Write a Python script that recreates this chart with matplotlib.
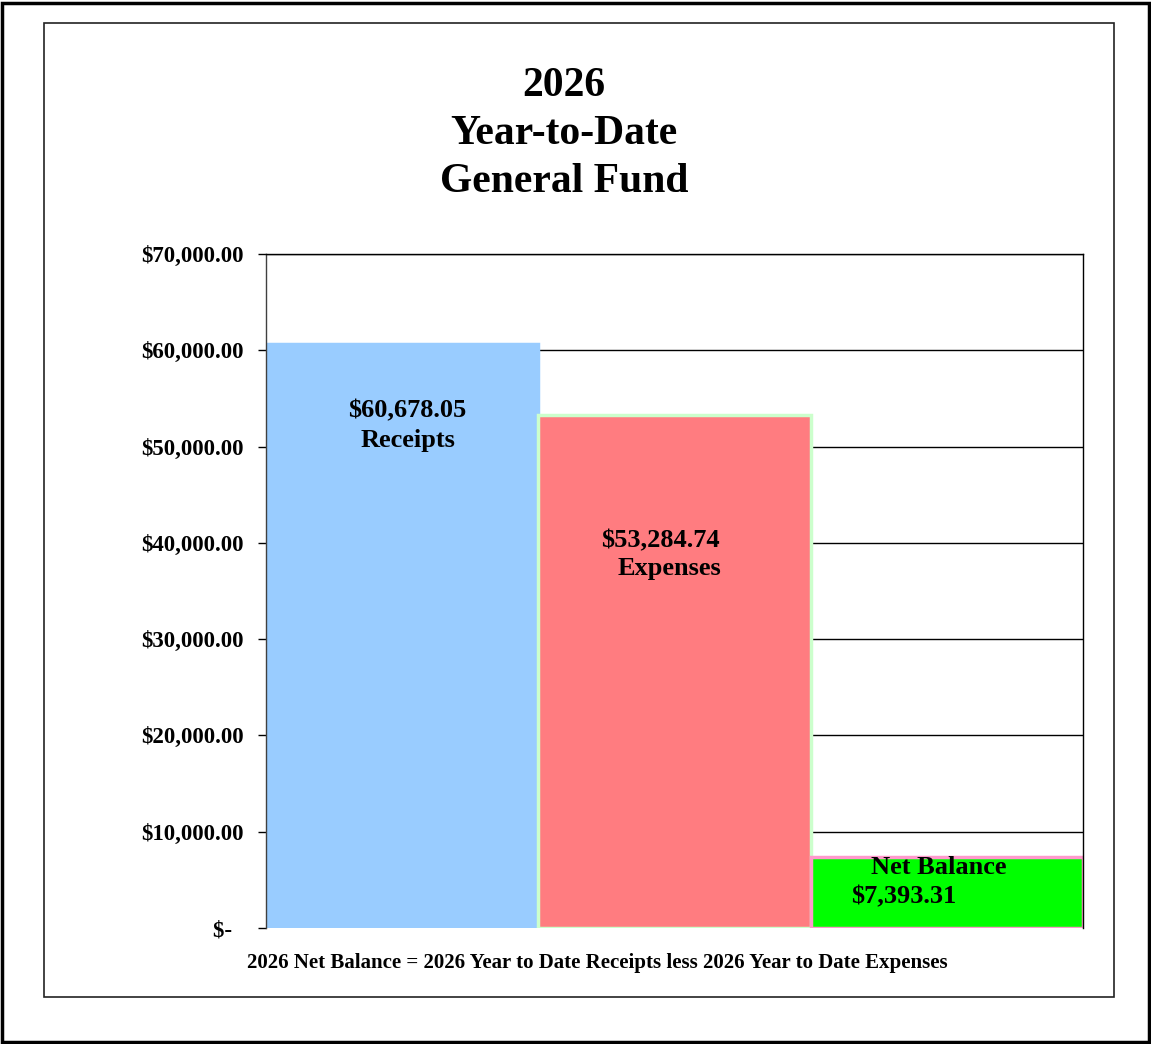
import matplotlib
matplotlib.use('Agg')
import matplotlib.pyplot as plt
from matplotlib.patches import Rectangle
from matplotlib.ticker import FuncFormatter

categories = ['Receipts', 'Expenses', 'Net Balance']
values = [60678.05, 53284.74, 7393.31]
bar_colors = ['#99ccff', '#ff7c80', '#00ff00']
edge_colors = ['#99ccff', '#ccffcc', '#ff99cc']
title_lines = ['2026', 'Year-to-Date', 'General Fund']
footnote = '2026 Net Balance = 2026 Year to Date Receipts less 2026 Year to Date Expenses'

plt.rcParams['font.family'] = ['Liberation Serif', 'DejaVu Serif']
plt.rcParams['font.weight'] = 'bold'


def money(v, pos):
    if v == 0:
        return '$-  '
    return f'${v:,.2f}'


def main():
    fig = plt.figure(figsize=(11.51, 10.44), dpi=100)
    W, H = 1151, 1044

    # outer and inner frames
    fig.patches.append(Rectangle((2 / W, 2 / H), 1147 / W, 1039 / H, transform=fig.transFigure,
                                 fill=False, edgecolor='black', linewidth=2.5))
    fig.patches.append(Rectangle((44 / W, 1 - 997 / H), 1070 / W, 974 / H, transform=fig.transFigure,
                                 fill=False, edgecolor='#222222', linewidth=1.2))

    ax = fig.add_axes([266 / W, 1 - 928 / H, (1083 - 266) / W, (928 - 254) / H])
    x = range(len(values))
    ax.bar(x, values, width=1.0, color=bar_colors, edgecolor=edge_colors, linewidth=2.5, zorder=3)
    ax.set_xlim(-0.5, 2.5)
    ax.set_ylim(0, 70000)
    ax.set_yticks(range(0, 70001, 10000))
    ax.yaxis.set_major_formatter(FuncFormatter(money))
    ax.set_xticks([])
    ax.grid(axis='y', color='black', linewidth=1, zorder=0)
    ax.tick_params(axis='y', length=6, width=1, labelsize=16.5, pad=10)
    for lab in ax.get_yticklabels():
        lab.set_fontweight('bold')
    for s in ax.spines.values():
        s.set_color('black')
        s.set_linewidth(1)
        s.set_zorder(4)
    ax.spines['left'].set_color('#404040')
    ax.spines['bottom'].set_visible(False)

    # bar labels
    ax.text(0.02, 53700, f'${values[0]:,.2f}', ha='center', va='center', fontsize=19, fontweight='bold', zorder=4)
    ax.text(0.02, 50600, categories[0], ha='center', va='center', fontsize=19, fontweight='bold', zorder=4)
    ax.text(0.947, 40200, f'${values[1]:,.2f}', ha='center', va='center', fontsize=19, fontweight='bold', zorder=4)
    ax.text(0.98, 37300, categories[1], ha='center', va='center', fontsize=19, fontweight='bold', zorder=4)
    ax.text(1.97, 6250, categories[2], ha='center', va='center', fontsize=19, fontweight='bold', zorder=4)
    ax.text(1.84, 3250, f'${values[2]:,.2f}', ha='center', va='center', fontsize=19, fontweight='bold', zorder=4)

    # title
    for i, line in enumerate(title_lines):
        fig.text(564 / W, 1 - (86 + 48 * i) / H, line, ha='center', va='center',
                 fontsize=30, fontweight='bold')

    fig.text(597 / W, 1 - 963 / H, footnote, ha='center', va='center', fontsize=15, fontweight='bold')

    plt.savefig('out.png', dpi=100)


if __name__ == '__main__':
    main()
